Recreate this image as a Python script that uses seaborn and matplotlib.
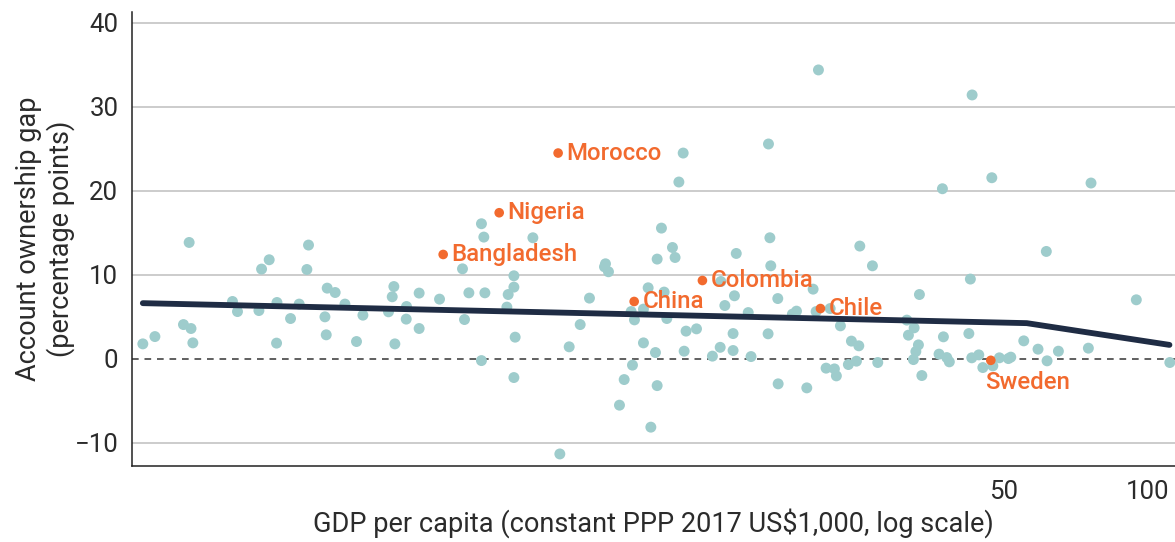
import matplotlib
matplotlib.use("Agg")
import matplotlib.pyplot as plt
import seaborn as sns
import pandas as pd

# Economies: GDP per capita (constant PPP 2017 US$1,000) and account ownership gap (pp)
gdp = [0.803, 0.851, 1.003, 0.976, 1.012, 1.021, 1.235, 1.265, 1.420, 1.473,
       1.402, 1.529, 1.526, 1.632, 1.701, 1.779, 1.765, 1.946, 2.022, 1.925,
       1.937, 2.119, 2.240, 2.310, 2.680, 2.659, 2.612, 2.693, 2.848, 2.844,
       3.026, 3.026, 3.337, 3.842, 4.149, 4.640, 4.769, 3.726, 4.769, 4.081,
       4.128, 5.224, 3.762, 4.611, 4.798, 4.081, 4.769, 6.219, 6.556, 6.855,
       5.946, 7.403, 7.367, 7.510, 10.75, 10.53, 9.685, 10.21, 9.487, 10.34,
       9.086, 9.810, 8.374, 8.508, 8.883, 9.938, 8.883, 9.410, 8.427, 8.098,
       9.487, 7.917, 9.204, 10.90, 11.46, 10.80, 12.37, 12.84, 20.58, 43.04,
       16.19, 37.32, 47.31, 16.30, 13.87, 25.10, 16.37, 26.67, 42.68, 12.88,
       20.06, 13.75, 13.13, 16.93, 14.69, 18.52, 18.16, 20.35, 21.77, 33.42,
       31.46, 32.58, 31.70, 22.87, 13.66, 16.16, 24.11, 24.98, 37.50, 42.37,
       33.26, 32.85, 32.47, 36.72, 38.11, 38.58, 13.66, 14.89, 21.35, 22.22,
       22.43, 23.76, 24.70, 27.36, 16.96, 19.46, 33.81, 42.97, 44.44, 45.31,
       47.54, 49.06, 51.22, 51.82, 55.15, 59.06, 61.68, 65.13, 75.21, 111.2,
       76.17, 61.46, 94.68]
gap = [1.76, 2.63, 13.84, 4.06, 3.59, 1.88, 6.81, 5.61, 10.67, 11.78,
       5.73, 6.69, 1.85, 4.78, 6.50, 13.53, 10.62, 8.40, 7.88, 4.98,
       2.84, 6.50, 2.04, 5.18, 8.59, 7.37, 5.58, 1.76, 6.21, 4.71,
       7.81, 3.59, 7.09, 7.84, 7.84, 7.64, 8.52, 10.70, 9.87, 16.07,
       14.48, 14.40, 4.66, 6.14, 2.56, -0.23, -2.25, 1.41, 4.06, 7.21,
       -11.35, 11.30, 10.94, 10.35, 24.49, 21.04, 15.55, 13.24, 11.86, 12.05,
       8.44, 7.93, 5.61, 4.62, 5.90, 4.78, 1.88, 0.73, -0.77, -2.49,
       -3.21, -5.54, -8.16, 3.28, 3.55, 0.89, 0.30, 1.35, 34.39, 31.41,
       25.57, 20.24, 21.55, 14.40, 12.53, 13.41, 11.06, 11.06, 9.48, 9.19,
       8.28, 7.49, 6.33, 7.16, 5.49, 5.66, 5.30, 5.61, 5.97, 7.64,
       4.59, 3.67, 2.80, 3.91, 2.99, 2.96, 2.09, 1.53, 2.60, 2.99,
       1.64, 0.85, -0.11, 0.54, 0.13, -0.38, 0.97, 0.25, -1.13, -1.22,
       -2.05, -0.70, -0.30, -0.46, -3.00, -3.48, -2.01, 0.10, 0.45, -1.06,
       -0.86, 0.10, 0.01, 0.18, 2.12, 1.13, -0.26, 0.89, 1.25, -0.46,
       20.92, 12.77, 7.01]

# Highlighted economies
hl_names = ["Morocco", "Nigeria", "Bangladesh", "China", "Colombia", "Chile", "Sweden"]
hl_gdp = [5.897, 4.444, 3.396, 8.496, 11.79, 20.78, 47.08]
hl_gap = [24.49, 17.38, 12.41, 6.81, 9.31, 5.97, -0.20]

# Fitted relationship
trend_gdp = [0.803, 55.95, 111.0]
trend_gap = [6.61, 4.23, 1.64]

xticks = [50, 100]
yticks = [-10, 0, 10, 20, 30, 40]

TEAL = "#9ecccc"
ORANGE = "#f26a2e"
NAVY = "#1f2c44"
TEXT = "#2b2b2b"

sns.set_style("white")
plt.rcParams["font.family"] = ["Roboto", "DejaVu Sans"]

fig = plt.figure(figsize=(11.75, 5.42), dpi=100)
ax = fig.add_axes([0.1125, 0.140, 0.8875, 0.838])

df = pd.DataFrame({"gdp": gdp, "gap": gap})
hl = pd.DataFrame({"gdp": hl_gdp, "gap": hl_gap, "name": hl_names})
tr = pd.DataFrame({"gdp": trend_gdp, "gap": trend_gap})

ax.set_xscale("log")
for yv in yticks:
    if yv != 0:
        ax.axhline(yv, color="#c4c4c4", lw=1.2, zorder=0)
ax.axhline(0, color="#444444", lw=1.2, ls=(0, (4, 3.5)), zorder=1)

sns.scatterplot(data=df, x="gdp", y="gap", ax=ax, color=TEAL, s=62,
                edgecolor="none", linewidth=0, zorder=2)
sns.lineplot(data=tr, x="gdp", y="gap", ax=ax, color=NAVY, lw=4.2,
             zorder=3, sort=False, estimator=None)
sns.scatterplot(data=hl, x="gdp", y="gap", ax=ax, color=ORANGE, s=48,
                edgecolor="none", linewidth=0, zorder=4)

for name, xv, yv in zip(hl_names, hl_gdp, hl_gap):
    if name == "Sweden":
        ax.annotate(name, (xv, yv), xytext=(-4, -8), textcoords="offset points",
                    ha="left", va="top", color=ORANGE, fontsize=17.3,
                    fontweight="medium", zorder=5)
    else:
        ax.annotate(name, (xv, yv), xytext=(6, 0), textcoords="offset points",
                    ha="left", va="center", color=ORANGE, fontsize=17.3,
                    fontweight="medium", zorder=5)

ax.set_xlim(0.763, 114)
ax.set_ylim(-12.8, 41.3)
ax.set_xticks(xticks)
ax.set_xticklabels([str(t) for t in xticks])
ax.xaxis.set_minor_locator(matplotlib.ticker.NullLocator())
ax.set_yticks(yticks)
ax.set_yticklabels(["\u221210", "0", "10", "20", "30", "40"])

for side in ["top", "right"]:
    ax.spines[side].set_visible(False)
for side in ["left", "bottom"]:
    ax.spines[side].set_color("#222222")
    ax.spines[side].set_linewidth(1.1)

ax.tick_params(axis="both", which="major", direction="out", length=6, width=1.1,
               color="#222222", labelsize=18.5, labelcolor=TEXT, pad=4)
ax.set_xlabel("GDP per capita (constant PPP 2017 US$1,000, log scale)",
              fontsize=19.5, color=TEXT, labelpad=3)
ax.set_ylabel("Account ownership gap\n(percentage points)", fontsize=19.5,
              color=TEXT, labelpad=0, linespacing=1.15)

fig.savefig("out.png", dpi=100)
